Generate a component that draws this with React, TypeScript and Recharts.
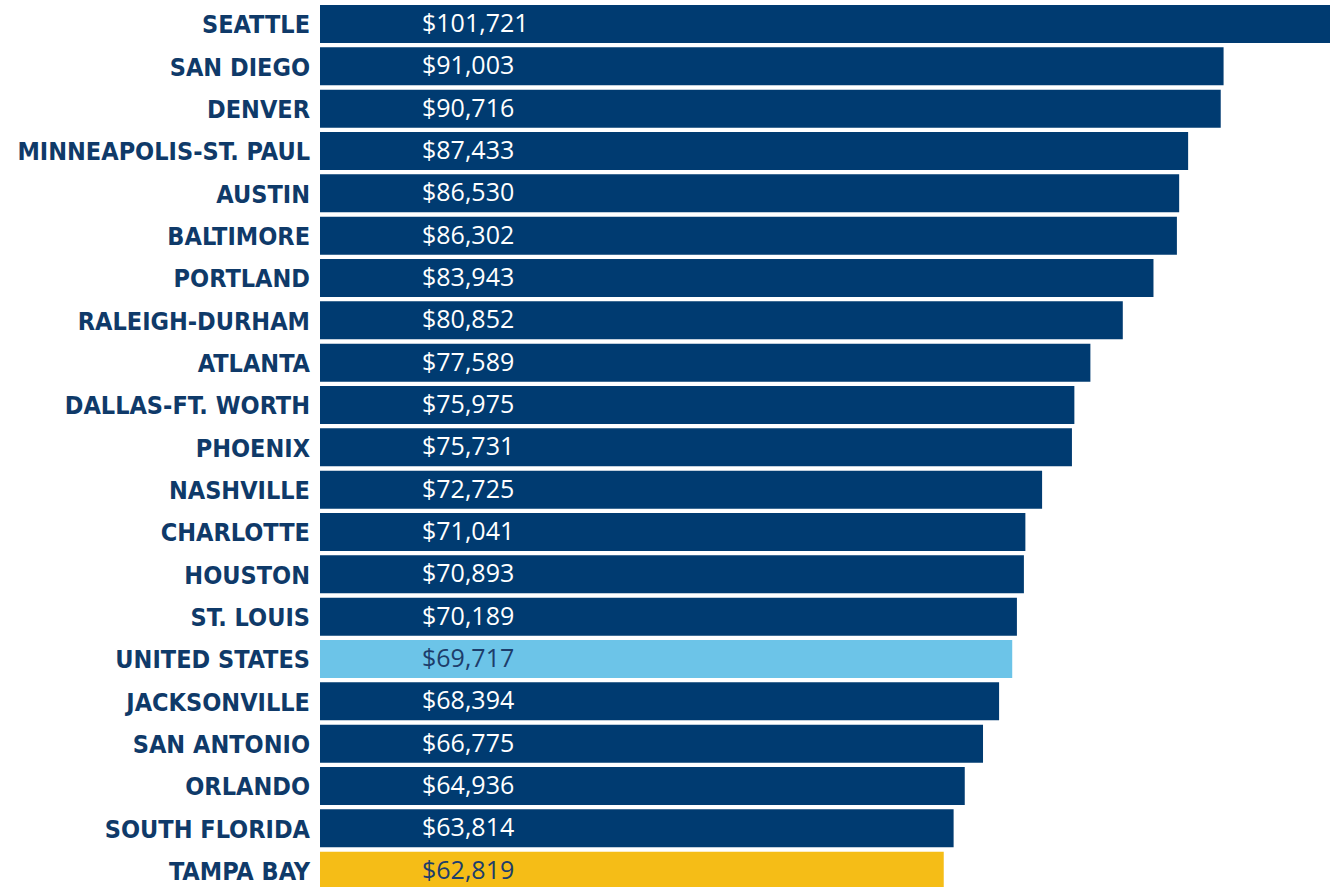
import { BarChart, Bar, XAxis, YAxis, Cell, LabelList } from "recharts";

const metros = [
  "SEATTLE",
  "SAN DIEGO",
  "DENVER",
  "MINNEAPOLIS-ST. PAUL",
  "AUSTIN",
  "BALTIMORE",
  "PORTLAND",
  "RALEIGH-DURHAM",
  "ATLANTA",
  "DALLAS-FT. WORTH",
  "PHOENIX",
  "NASHVILLE",
  "CHARLOTTE",
  "HOUSTON",
  "ST. LOUIS",
  "UNITED STATES",
  "JACKSONVILLE",
  "SAN ANTONIO",
  "ORLANDO",
  "SOUTH FLORIDA",
  "TAMPA BAY",
];

const incomes = [
  101721, 91003, 90716, 87433, 86530, 86302, 83943, 80852, 77589, 75975,
  75731, 72725, 71041, 70893, 70189, 69717, 68394, 66775, 64936, 63814, 62819,
];

const NAVY = "#003b71";
const US_BLUE = "#6cc4e8";
const TAMPA_GOLD = "#f5bd17";

const data = metros.map((name, i) => ({ name, income: incomes[i] }));

const barColor = (name: string) =>
  name === "UNITED STATES" ? US_BLUE : name === "TAMPA BAY" ? TAMPA_GOLD : NAVY;

const money = (v: number) => "$" + v.toLocaleString("en-US");

// metro names, bold and right aligned against the bars
const MetroTick = (props: any) => {
  const { x, y, payload } = props;
  return (
    <text
      x={x - 2}
      y={y}
      dy={9}
      textAnchor="end"
      fill="#0f3a69"
      fontFamily="'Liberation Sans Narrow', 'DejaVu Sans Condensed', sans-serif"
      fontWeight={700}
      fontSize={25}
    >
      {payload.value}
    </text>
  );
};

// value text always starts at the same spot inside the bar
const ValueLabel = (props: any) => {
  const { x, y, height, index } = props;
  const name = metros[index];
  const dark = name === "UNITED STATES" || name === "TAMPA BAY";
  return (
    <text
      x={x + 102}
      y={y + height / 2}
      dy={8}
      fill={dark ? "#1d3d6b" : "#ffffff"}
      fontFamily="'Open Sans', sans-serif"
      fontSize={25}
    >
      {money(incomes[index])}
    </text>
  );
};

export default function App() {
  return (
    <div
      style={{
        position: "absolute",
        left: 0,
        top: 0,
        width: 1330,
        height: 887,
        overflow: "hidden",
        background: "#ffffff",
      }}
    >
      <BarChart
        width={1330}
        height={892}
        data={data}
        layout="vertical"
        margin={{ top: 3, right: 0, bottom: 0, left: 0 }}
      >
        <XAxis type="number" domain={[0, 101721]} hide />
        <YAxis
          type="category"
          dataKey="name"
          width={320}
          tickLine={false}
          axisLine={false}
          interval={0}
          tick={<MetroTick />}
        />
        <Bar dataKey="income" barSize={38} isAnimationActive={false}>
          {data.map((d) => (
            <Cell key={d.name} fill={barColor(d.name)} />
          ))}
          <LabelList dataKey="income" content={<ValueLabel />} />
        </Bar>
      </BarChart>
    </div>
  );
}
